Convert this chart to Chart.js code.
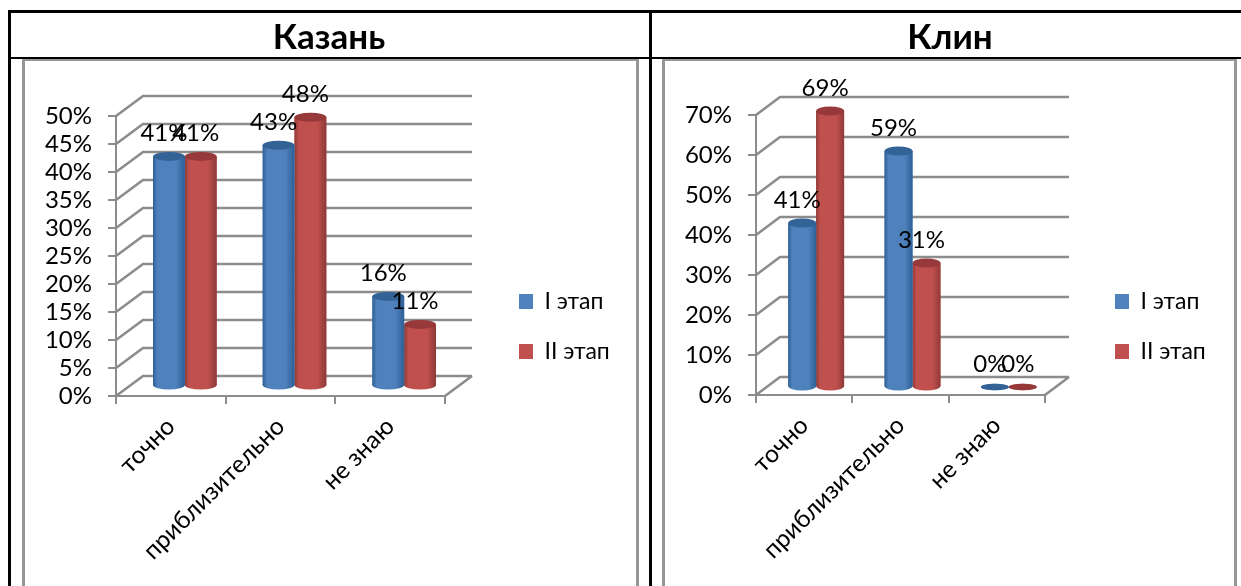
<!DOCTYPE html>
<html><head><meta charset="utf-8">
<style>
html,body{margin:0;padding:0;background:#fff;overflow:hidden;width:1241px;height:586px}
canvas{position:absolute;top:0}
.b{position:absolute;background:#000}
.g{position:absolute;background:#969696}
.t{position:absolute;top:14px;height:43px;line-height:43px;text-align:center;font:bold 35px Lato,sans-serif;color:#000}
</style></head><body>
<div class="g" style="left:22px;top:59px;width:616px;height:2px"></div>
<div class="g" style="left:22px;top:59px;width:3px;height:527px"></div>
<div class="g" style="left:636px;top:59px;width:3px;height:527px"></div>
<div class="g" style="left:662px;top:59px;width:574px;height:2px"></div>
<div class="g" style="left:662px;top:59px;width:3px;height:527px"></div>
<div class="g" style="left:1234px;top:59px;width:3px;height:527px"></div>
<canvas id="c1" width="650" height="586" style="left:0"></canvas>
<canvas id="c2" width="591" height="586" style="left:650px"></canvas>
<div class="b" style="left:8px;top:10px;width:1233px;height:3px"></div>
<div class="b" style="left:8px;top:57px;width:1233px;height:2px"></div>
<div class="b" style="left:8px;top:10px;width:3px;height:576px"></div>
<div class="b" style="left:649px;top:10px;width:3px;height:576px"></div>
<div class="t" style="left:9px;width:640px">Казань</div>
<div class="t" style="left:655px;width:590px">Клин</div>
<script src="https://cdn.jsdelivr.net/npm/chart.js@4"></script>
<script>
const categories = ['точно', 'приблизительно', 'не знаю'];
const seriesNames = ['I этап', 'II этап'];
const kazanStage1 = [41, 43, 16];
const kazanStage2 = [41, 48, 11];
const klinStage1 = [41, 59, 0];
const klinStage2 = [69, 31, 0];
const FONT = 'Lato, sans-serif';
const GRID = '#8c8c8c';
const FILL = ['#4F81BD', '#C0504D'];
const EDGE = ['#2E5F95', '#8E3A37'];
const TOP = ['#336396', '#97393A'];

function cylinder(cfg) {
  return {
    id: 'cylinder',
    beforeDatasetsDraw(chart) {
      const c = chart.ctx, a = chart.chartArea, y = chart.scales.y;
      c.save();
      c.strokeStyle = GRID; c.lineWidth = 2.6;
      c.beginPath();
      y.ticks.forEach((t, i) => {
        const py = Math.round(y.getPixelForTick(i));
        c.moveTo(a.left, py);
        c.lineTo(a.left + cfg.dx, py + cfg.dy);
        c.lineTo(a.right + cfg.dx, py + cfg.dy);
      });
      c.moveTo(a.right, a.bottom);
      c.lineTo(a.right + cfg.dx, a.bottom + cfg.dy);
      c.stroke();
      c.restore();
      c.save();
      c.translate(cfg.tx, cfg.ty);
    },
    afterDatasetDraw(chart, args) {
      const c = chart.ctx, i = args.index;
      chart.getDatasetMeta(i).data.forEach(b => {
        const h = b.base - b.y, r = b.width / 2, flat = h < 1;
        const g = c.createLinearGradient(b.x - r, 0, b.x + r, 0);
        g.addColorStop(0, EDGE[i]);
        g.addColorStop(0.14, FILL[i]);
        g.addColorStop(0.72, FILL[i]);
        g.addColorStop(1, EDGE[i]);
        const ry = flat ? 3.2 : 4.5;
        c.fillStyle = g;
        c.fillRect(b.x - r, b.y, b.width, h);
        c.beginPath();
        c.ellipse(b.x, b.base, r, ry, 0, 0, Math.PI * 2);
        c.fill();
        c.fillStyle = TOP[i];
        c.beginPath();
        c.ellipse(b.x, b.y, r, ry, 0, 0, Math.PI * 2);
        c.fill();
      });
    },
    afterDatasetsDraw(chart) {
      const c = chart.ctx;
      c.restore();
      c.save();
      c.fillStyle = '#000';
      c.font = '24px ' + FONT;
      c.textAlign = 'center';
      c.textBaseline = 'middle';
      chart.data.datasets.forEach((ds, i) => {
        chart.getDatasetMeta(i).data.forEach((b, k) => {
          c.fillText(ds.data[k] + '%', b.x + cfg.tx - 5, b.y + cfg.ty - 23);
        });
      });
      c.restore();
    },
    afterLayout(chart) {
      const l = chart.legend;
      l.left = cfg.legendX; l.right = cfg.legendX + 160;
      l.top = cfg.legendY; l.bottom = cfg.legendY + 200;
    }
  };
}

function build(id, s1, s2, maxV, step, cfg) {
  new Chart(document.getElementById(id), {
    type: 'bar',
    data: {
      labels: categories,
      datasets: [
        { label: seriesNames[0], data: s1, backgroundColor: FILL[0], clip: false },
        { label: seriesNames[1], data: s2, backgroundColor: FILL[1], clip: false }
      ]
    },
    plugins: [cylinder(cfg)],
    options: {
      responsive: false, animation: false,
      layout: { padding: { left: 0, top: cfg.top, right: cfg.right, bottom: 4 } },
      datasets: { bar: { categoryPercentage: 0.58, barPercentage: 1 } },
      plugins: {
        tooltip: { enabled: false },
        legend: {
          position: 'chartArea', align: 'start',
          labels: { boxWidth: 14, boxHeight: 15, padding: 27, color: '#000', font: { family: FONT, size: 23 } }
        }
      },
      scales: {
        x: {
          afterFit(s) { s.height = 586 - 4 - cfg.bottomY; },
          grid: { drawOnChartArea: false, color: GRID, lineWidth: 2, tickLength: 8 },
          border: { color: GRID, width: 2 },
          ticks: { color: '#000', font: { family: FONT, size: 24.5 }, minRotation: 45, maxRotation: 45, autoSkip: false, padding: 8 }
        },
        y: {
          min: 0, max: maxV,
          afterFit(s) { s.width = cfg.left; },
          grid: { drawOnChartArea: false, color: GRID, lineWidth: 2, tickLength: 8 },
          border: { color: GRID, width: 2 },
          ticks: { stepSize: step, autoSkip: false, color: '#000', font: { family: FONT, size: 24 }, padding: 16, callback: v => v + '%' }
        }
      }
    }
  });
}
build('c1', kazanStage1, kazanStage2, 50, 5, { left: 116, top: 116, bottomY: 396, right: 205, dx: 27, dy: -20, tx: 14, ty: -10, legendX: 492, legendY: 263 });
build('c2', klinStage1, klinStage2, 70, 10, { left: 106, top: 115, bottomY: 395, right: 196, dx: 24, dy: -18, tx: 12, ty: -8, legendX: 438, legendY: 263 });
</script>
</body></html>
